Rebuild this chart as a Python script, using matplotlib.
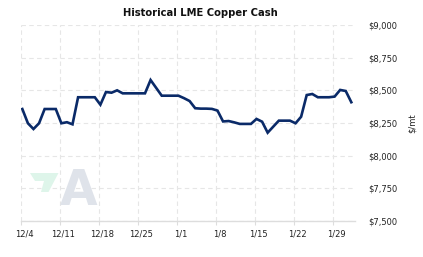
import pandas as pd
import matplotlib.pyplot as plt
import matplotlib.transforms as mtransforms
from matplotlib.patches import Polygon

# daily LME copper cash ($/mt), weekends and holidays carry the last price
start_date = '2023-12-04'
prices = [8357, 8248, 8204, 8248, 8357, 8357, 8357,
          8248, 8256, 8240, 8447, 8447, 8447, 8447,
          8390, 8487, 8482, 8500, 8477, 8477, 8477,
          8477, 8477, 8579, 8519, 8459, 8459, 8459,
          8459, 8440, 8418, 8363, 8360, 8360, 8358,
          8345, 8262, 8265, 8255, 8243, 8243, 8243,
          8281, 8260, 8176, 8222, 8268, 8268, 8268,
          8248, 8298, 8464, 8472, 8447, 8447, 8447,
          8452, 8503, 8495, 8409]
tick_dates = ['2023-12-04', '2023-12-11', '2023-12-18', '2023-12-25', '2024-01-01',
              '2024-01-08', '2024-01-15', '2024-01-22', '2024-01-29']
tick_labels = ['12/4', '12/11', '12/18', '12/25', '1/1', '1/8', '1/15', '1/22', '1/29']
y_ticks = [7500, 7750, 8000, 8250, 8500, 8750, 9000]

dates = pd.date_range(start_date, periods=len(prices), freq='D') + pd.Timedelta(hours=7)

W, H = 423, 257
fig = plt.figure(figsize=(W / 100, H / 100), dpi=100)
ax = fig.add_axes([20.7 / W, 1 - 221 / H, 334 / W, 196 / H])

ax.plot(dates, prices, color='#0a2a68', linewidth=1.9, solid_joinstyle='miter', zorder=3)

x0 = pd.Timestamp(start_date)
ax.set_xlim(x0, x0 + pd.Timedelta(days=59.9))
ax.set_ylim(7500, 9000)

ax.set_xticks(pd.to_datetime(tick_dates))
ax.set_xticklabels(tick_labels)
ax.set_yticks(y_ticks)
ax.set_yticklabels(['${:,}'.format(v) for v in y_ticks])

ax.yaxis.tick_right()
ax.yaxis.set_label_position('right')
ax.set_ylabel('$/mt', fontsize=6, rotation=90, labelpad=7, color='#222222')

ax.tick_params(axis='y', length=0, pad=10, labelsize=6, labelcolor='#222222')
ax.tick_params(axis='x', length=3, width=0.8, color='#dddddd', pad=3,
               labelsize=6, labelcolor='#222222')
for lbl in ax.get_yticklabels():
    lbl.set_horizontalalignment('left')
shift = mtransforms.ScaledTranslation(3.5 / 100, 0, fig.dpi_scale_trans)
for lbl in ax.get_xticklabels():
    lbl.set_transform(lbl.get_transform() + shift)

ax.grid(True, color='#e6e6e6', linestyle=(0, (4, 3)), linewidth=0.8)
for s in ['left', 'right', 'top']:
    ax.spines[s].set_visible(False)
ax.spines['bottom'].set_color('#dddddd')
ax.spines['bottom'].set_linewidth(1.0)

# watermark logo
def fpt(x, y):
    return (x / W, 1 - y / H)
green = [fpt(30, 173), fpt(58.5, 173), fpt(48.5, 192), fpt(41, 192), fpt(44, 181), fpt(35, 181)]
fig.patches.append(Polygon(green, closed=True, transform=fig.transFigure,
                           facecolor='#def5ea', edgecolor='none', zorder=0))
fig.text(78.5 / W, 1 - 191 / H, 'A', fontsize=35, fontweight='bold', color='#dfe3ea',
         ha='center', va='center', zorder=0)

fig.text(200 / W, 1 - 13 / H, 'Historical LME Copper Cash', fontsize=7.2,
         fontweight='bold', ha='center', va='center', color='#111111')

fig.savefig('out.png', dpi=100)
